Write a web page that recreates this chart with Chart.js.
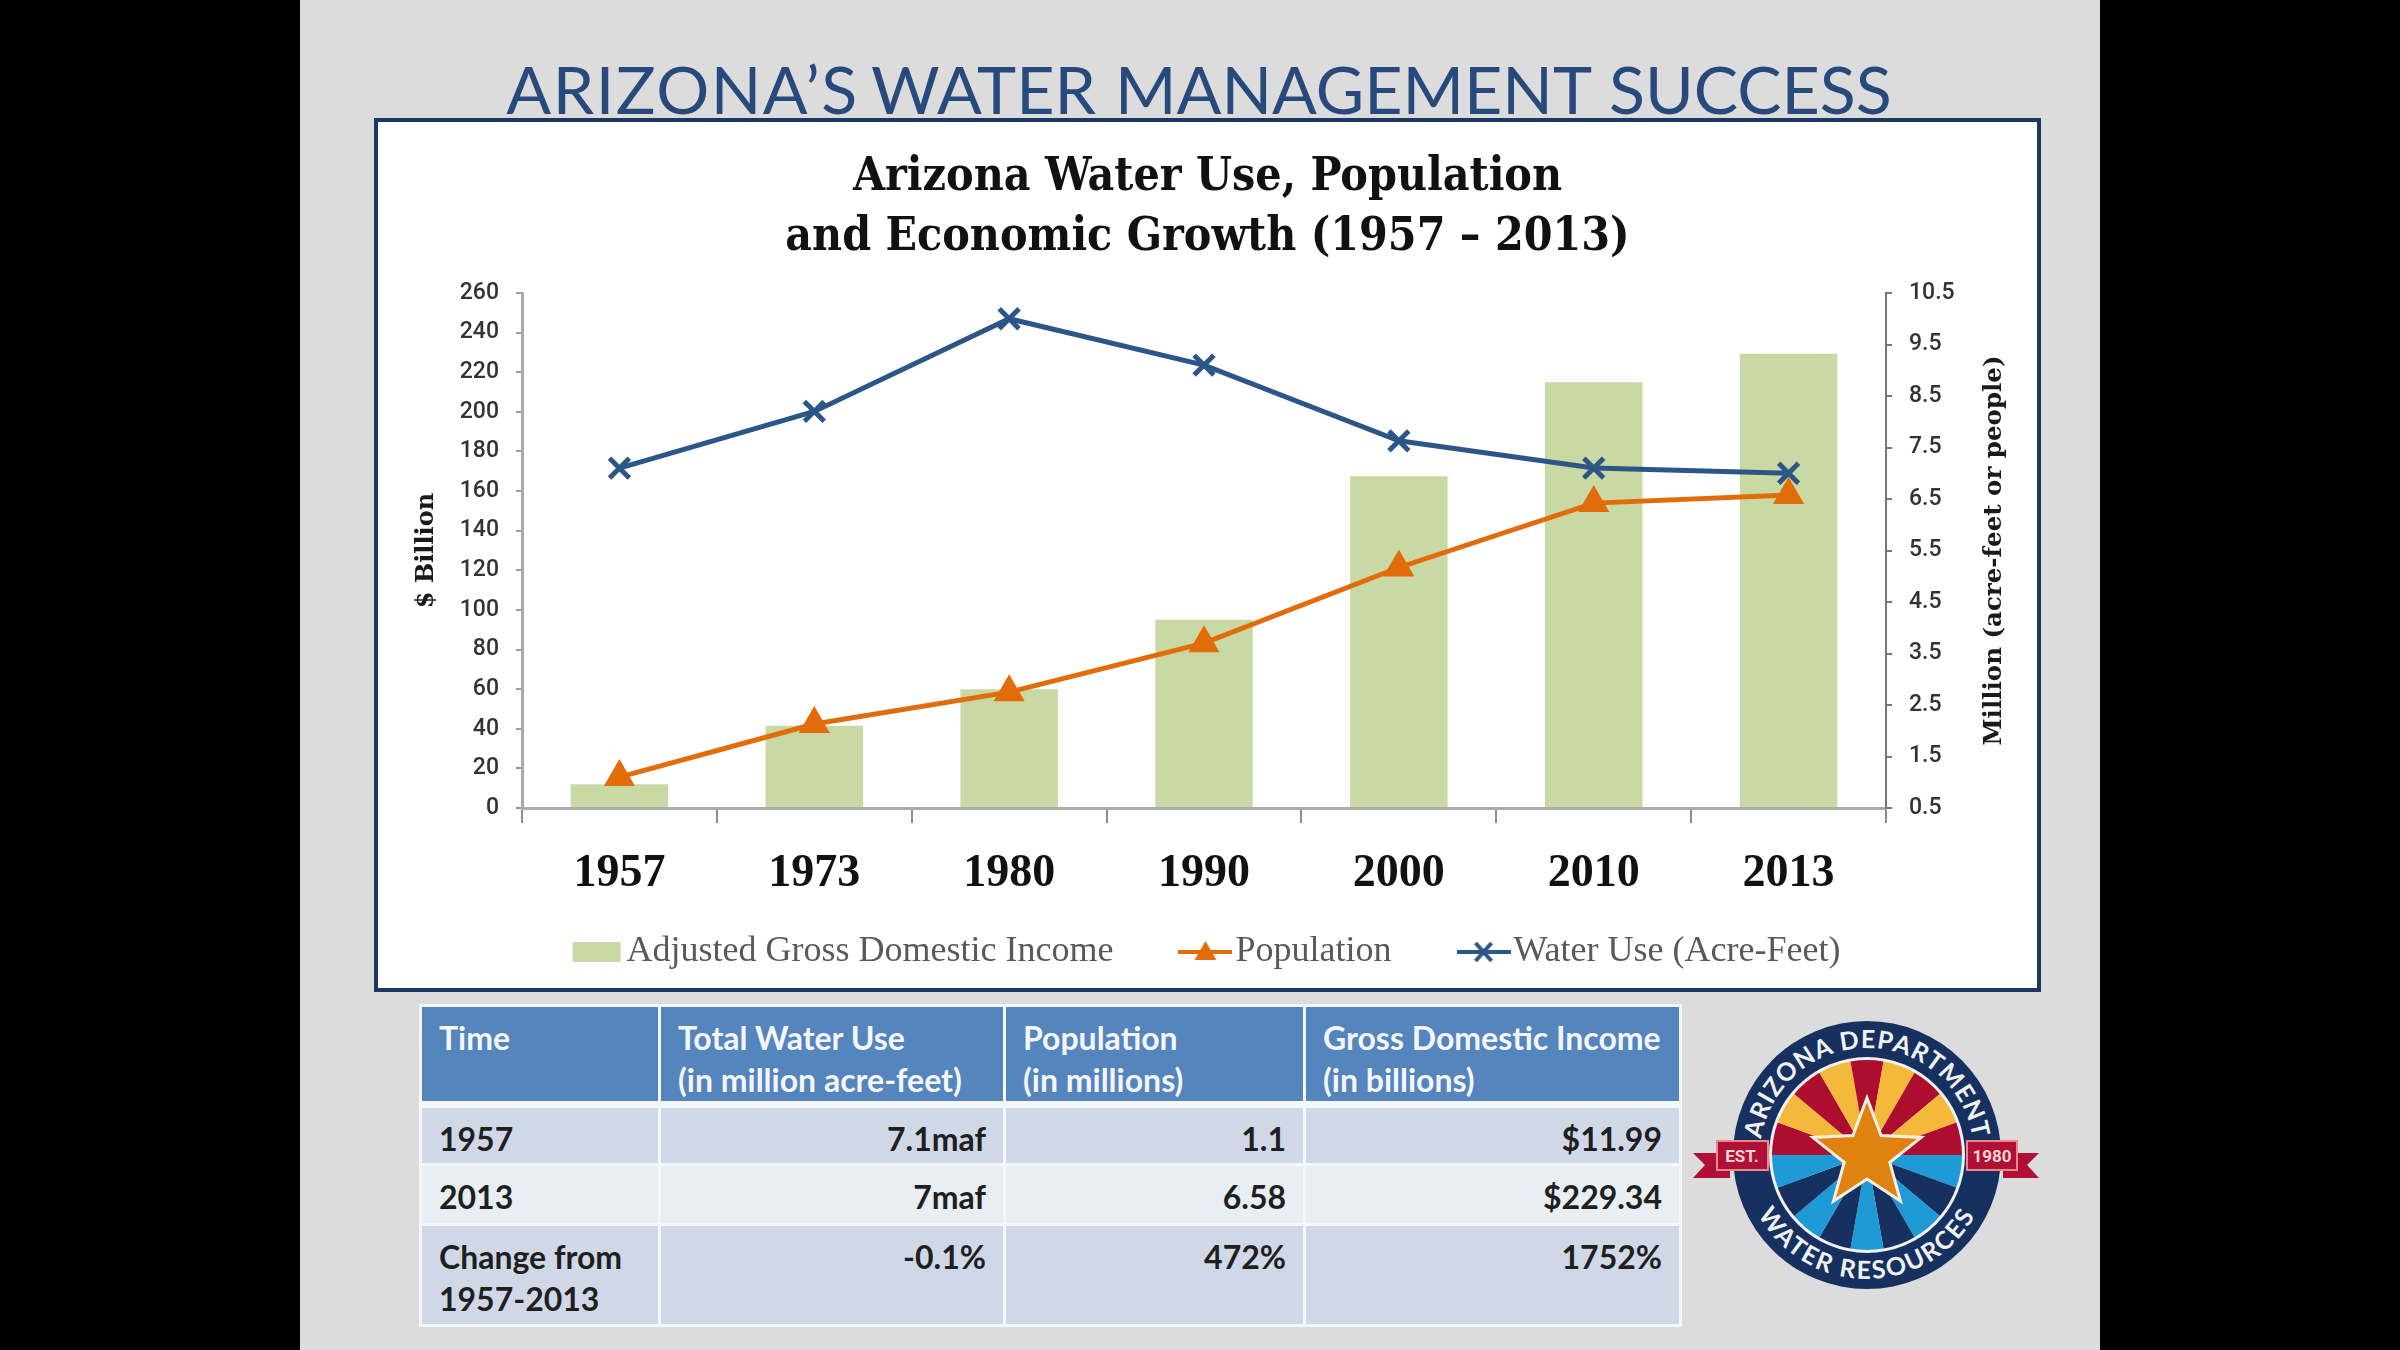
<!DOCTYPE html>
<html>
<head>
<meta charset="utf-8">
<script src="https://cdn.jsdelivr.net/npm/chart.js@4"></script>
<style>
  html, body { margin: 0; padding: 0; background: #000; }
  #slide { position: absolute; left: 300px; top: 0; width: 1800px; height: 1350px; background: #dcdcdc; overflow: hidden; }
  #heading { position: absolute; left: 300px; top: 49px; width: 1798px; text-align: center; font: 400 66.3px Lato, sans-serif;
             color: #27497b; white-space: nowrap; word-spacing: 2px; }
  #frame { position: absolute; left: 374px; top: 118px; width: 1659px; height: 866px; background: #fff; border: 4px solid #1c3764; }
  #chartBox { position: absolute; left: 375px; top: 119px; }
  table { position: absolute; left: 419px; top: 1004px; width: 1260px; height: 323px; border-collapse: collapse; table-layout: fixed;
          font: 700 32px Lato, sans-serif; color: #1f1f1f; }
  td, th { border: 3px solid #f4f6fa; padding: 10px 17px 0; vertical-align: top; line-height: 42px; white-space: nowrap; }
  th { background: #5585bd; color: #f4f6fa; font-weight: 700; text-align: left; border-bottom-width: 7px; }
  td { text-align: right; }
  td:first-child { text-align: left; }
  tr.a td { background: #d0d8e8; }
  tr.b td { background: #e9edf4; }
  #logo { position: absolute; left: 1680px; top: 1000px; }
</style>
</head>
<body>
<div id="slide"></div>
<div id="heading"><span style="letter-spacing:1.5px;word-spacing:-6px">ARIZONA’S </span>WATER MANAGEMENT SUCCESS</div>
<div id="frame"></div>
<div id="chartBox"><canvas id="chart" width="1665" height="861"></canvas></div>

<table id="summary">
  <colgroup><col style="width:239px"><col style="width:345px"><col style="width:300px"><col style="width:376px"></colgroup>
  <tr style="height:94px"><th>Time</th><th>Total Water Use<br>(in million acre-feet)</th><th>Population<br>(in millions)</th><th>Gross Domestic Income<br>(in billions)</th></tr>
  <tr class="a" style="height:60px"><td>1957</td><td>7.1maf</td><td>1.1</td><td>$11.99</td></tr>
  <tr class="b" style="height:60px"><td>2013</td><td>7maf</td><td>6.58</td><td>$229.34</td></tr>
  <tr class="a"><td>Change from<br>1957-2013</td><td>-0.1%</td><td>472%</td><td>1752%</td></tr>
</table>

<svg id="logo" width="380" height="310" viewBox="0 0 380 310">
  <defs>
    <path id="arcTop" d="M 80 155 A 107 107 0 0 1 294 155"/>
    <path id="arcBottom" d="M 63 155 A 124 124 0 0 0 311 155"/>
  </defs>
  <polygon points="13,153 50,153 50,178 13,178 25,165" fill="#b01035"/>
  <polygon points="359,153 323,153 323,178 359,178 347,165" fill="#b01035"/>
  <circle cx="187" cy="155" r="134" fill="#16305f"/>
  <circle cx="187" cy="155" r="98" fill="#f2f2f2"/>
  <g id="rays"></g>
  <polygon points="37,141 88,141 88,170 37,170" fill="#b01035" stroke="#e88" stroke-width="2"/>
  <polygon points="287,141 337,141 337,170 287,170" fill="#b01035" stroke="#e88" stroke-width="2"/>
  <text x="62" y="162" text-anchor="middle" font-family="Roboto" font-weight="700" font-size="17" fill="#f4d6d6">EST.</text>
  <text x="312" y="162" text-anchor="middle" font-family="Roboto" font-weight="700" font-size="17" fill="#f4d6d6">1980</text>
  <polygon id="star" fill="#e0820f" stroke="#f6f0e0" stroke-width="3"/>
  <text font-family="Lato, sans-serif" font-weight="700" font-size="25" fill="#f2f2f2" letter-spacing="1"><textPath href="#arcTop" startOffset="50%" text-anchor="middle">ARIZONA DEPARTMENT</textPath></text>
  <text font-family="Lato, sans-serif" font-weight="700" font-size="25" fill="#f2f2f2" letter-spacing="2"><textPath href="#arcBottom" startOffset="50%" text-anchor="middle">WATER RESOURCES</textPath></text>
</svg>

<script>
// values
const years = ['1957', '1973', '1980', '1990', '2000', '2010', '2013'];
const income = [11.99, 41.5, 60, 95, 167.5, 215, 229.34];
const population = [1.1, 2.13, 2.75, 3.7, 5.17, 6.42, 6.58];
const waterUse = [7.1, 8.2, 10.0, 9.1, 7.63, 7.1, 7.0];

const seriesNames = ['Adjusted Gross Domestic Income', 'Population', 'Water Use (Acre-Feet)'];
const titleLines = ['Arizona Water Use, Population', 'and Economic Growth (1957 – 2013)'];
const rightAxisTitle = 'Million (acre-feet or people)';

const GREEN = '#c9d9a4', ORANGE = '#e36c0a', BLUE = '#2c5687';
const SERIF = '"Liberation Serif", serif';
const WIDESERIF = '"DejaVu Serif Condensed", "DejaVu Serif", serif';
const TICKFONT = 'Roboto, sans-serif';

// legend keys: line with the marker on top
function legendKey(kind) {
  const c = document.createElement('canvas');
  c.width = 54; c.height = 26;
  const g = c.getContext('2d');
  if (kind === 'bar') {
    g.fillStyle = GREEN;
    g.fillRect(3, 3, 48, 20);
    return c;
  }
  const col = kind === 'tri' ? ORANGE : BLUE;
  g.strokeStyle = col; g.fillStyle = col; g.lineWidth = 4;
  g.beginPath(); g.moveTo(0, 13); g.lineTo(54, 13); g.stroke();
  if (kind === 'tri') {
    g.beginPath(); g.moveTo(27, 2); g.lineTo(38, 21); g.lineTo(16, 21); g.closePath(); g.fill();
  } else {
    g.beginPath(); g.moveTo(19, 4); g.lineTo(35, 22); g.moveTo(35, 4); g.lineTo(19, 22); g.stroke();
  }
  return c;
}
const keys = [legendKey('bar'), legendKey('tri'), legendKey('x')];

const slideFixes = {
  id: 'slideFixes',
  // x labels get clipped to the scale box, legend sits closer than its padding allows
  afterLayout(chart) {
    chart.scales.x.bottom = chart.height;
    chart.legend.left += 5;
    chart.legend.right += 5;
  },
  // Chart.js only rotates a right axis title clockwise, the original reads upward
  afterDraw(chart) {
    const g = chart.ctx, a = chart.chartArea;
    g.save();
    g.translate(1620, (a.top + a.bottom) / 2);
    g.rotate(-Math.PI / 2);
    g.font = 'bold 24.5px "DejaVu Serif", serif';
    g.fillStyle = '#1a1a1a';
    g.textAlign = 'center';
    g.textBaseline = 'middle';
    g.fillText(rightAxisTitle, 0, 0);
    g.restore();
  }
};

new Chart(document.getElementById('chart'), {
  type: 'bar',
  data: {
    labels: years,
    datasets: [
      { label: seriesNames[0], data: income, backgroundColor: GREEN, yAxisID: 'y', order: 3,
        barPercentage: 0.5, categoryPercentage: 1 },
      { type: 'line', label: seriesNames[1], data: population, yAxisID: 'y1', order: 2, tension: 0,
        borderColor: ORANGE, backgroundColor: ORANGE, borderWidth: 5,
        pointStyle: 'triangle', pointRadius: 13, pointBackgroundColor: ORANGE, pointBorderColor: ORANGE },
      { type: 'line', label: seriesNames[2], data: waterUse, yAxisID: 'y1', order: 1, tension: 0,
        borderColor: BLUE, backgroundColor: BLUE, borderWidth: 5,
        pointStyle: 'crossRot', pointRadius: 14, pointBorderColor: BLUE, pointBorderWidth: 5 }
    ]
  },
  options: {
    responsive: false,
    devicePixelRatio: 1,
    animation: false,
    plugins: {
      title: {
        display: true,
        text: titleLines,
        color: '#111',
        font: { family: WIDESERIF, size: 46, weight: 'bold', lineHeight: 60 / 46 },
        padding: { top: 29, bottom: 25 }
      },
      legend: {
        position: 'bottom',
        labels: {
          usePointStyle: true,
          pointStyleWidth: 24,
          padding: 80,
          color: '#595959',
          font: { family: SERIF, size: 36 },
          generateLabels: () => seriesNames.map((text, i) => ({
            text, pointStyle: keys[i], datasetIndex: i, lineWidth: 0,
            fontColor: '#595959'
          }))
        }
      },
      tooltip: { enabled: false }
    },
    scales: {
      x: {
        grid: { offset: true, drawOnChartArea: false, color: '#8c8c8c', tickLength: 15, lineWidth: 2 },
        border: { color: '#ababab', width: 3 },
        ticks: { color: '#111', padding: 24, maxRotation: 0, autoSkip: false,
                 font: { family: SERIF, size: 46, weight: 'bold' } },
        afterFit(s) { s.height = 46; }
      },
      y: {
        position: 'left',
        min: 0, max: 260,
        grid: { drawOnChartArea: false, color: '#9a9a9a', tickLength: 6, lineWidth: 2 },
        border: { color: '#ababab', width: 3 },
        ticks: { stepSize: 20, autoSkip: false, color: '#333', padding: 17,
                 font: { family: TICKFONT, size: 23, weight: 500 } },
        title: { display: true, text: '$ Billion', color: '#1a1a1a', padding: { top: 37 },
                 font: { family: '"DejaVu Serif", serif', size: 24, weight: 'bold' } },
        afterFit(s) { s.width = 147; }
      },
      y1: {
        position: 'right',
        min: 0.5, max: 10.5,
        grid: { drawOnChartArea: false, color: '#777', tickLength: 6, lineWidth: 2 },
        border: { color: '#777', width: 2 },
        ticks: { stepSize: 1, autoSkip: false, color: '#333', padding: 17,
                 font: { family: TICKFONT, size: 23, weight: 500 },
                 callback: v => v.toFixed(1) },
        afterFit(s) { s.width = 154; }
      }
    }
  },
  plugins: [slideFixes]
});

// logo, purely decoration
const ns = 'http://www.w3.org/2000/svg';
const rays = document.getElementById('rays');
const cx = 187, cy = 155, R = 95;
for (let i = 0; i < 18; i++) {
  const a0 = Math.PI + i * Math.PI / 9, a1 = a0 + Math.PI / 9;
  const upper = i < 9;
  const col = upper ? (i % 2 ? '#f4b93a' : '#ad0e30') : ((i - 9) % 2 ? '#16305f' : '#1e9ad6');
  const p = document.createElementNS(ns, 'path');
  p.setAttribute('d', `M${cx} ${cy} L${cx + R * Math.cos(a0)} ${cy + R * Math.sin(a0)} A${R} ${R} 0 0 1 ${cx + R * Math.cos(a1)} ${cy + R * Math.sin(a1)} Z`);
  p.setAttribute('fill', col);
  rays.appendChild(p);
}
const pts = [];
for (let i = 0; i < 10; i++) {
  const r = i % 2 ? 24 : 57, a = -Math.PI / 2 + i * Math.PI / 5;
  pts.push((cx + r * Math.cos(a)).toFixed(1) + ',' + (cy + r * Math.sin(a)).toFixed(1));
}
document.getElementById('star').setAttribute('points', pts.join(' '));
</script>
</body>
</html>
